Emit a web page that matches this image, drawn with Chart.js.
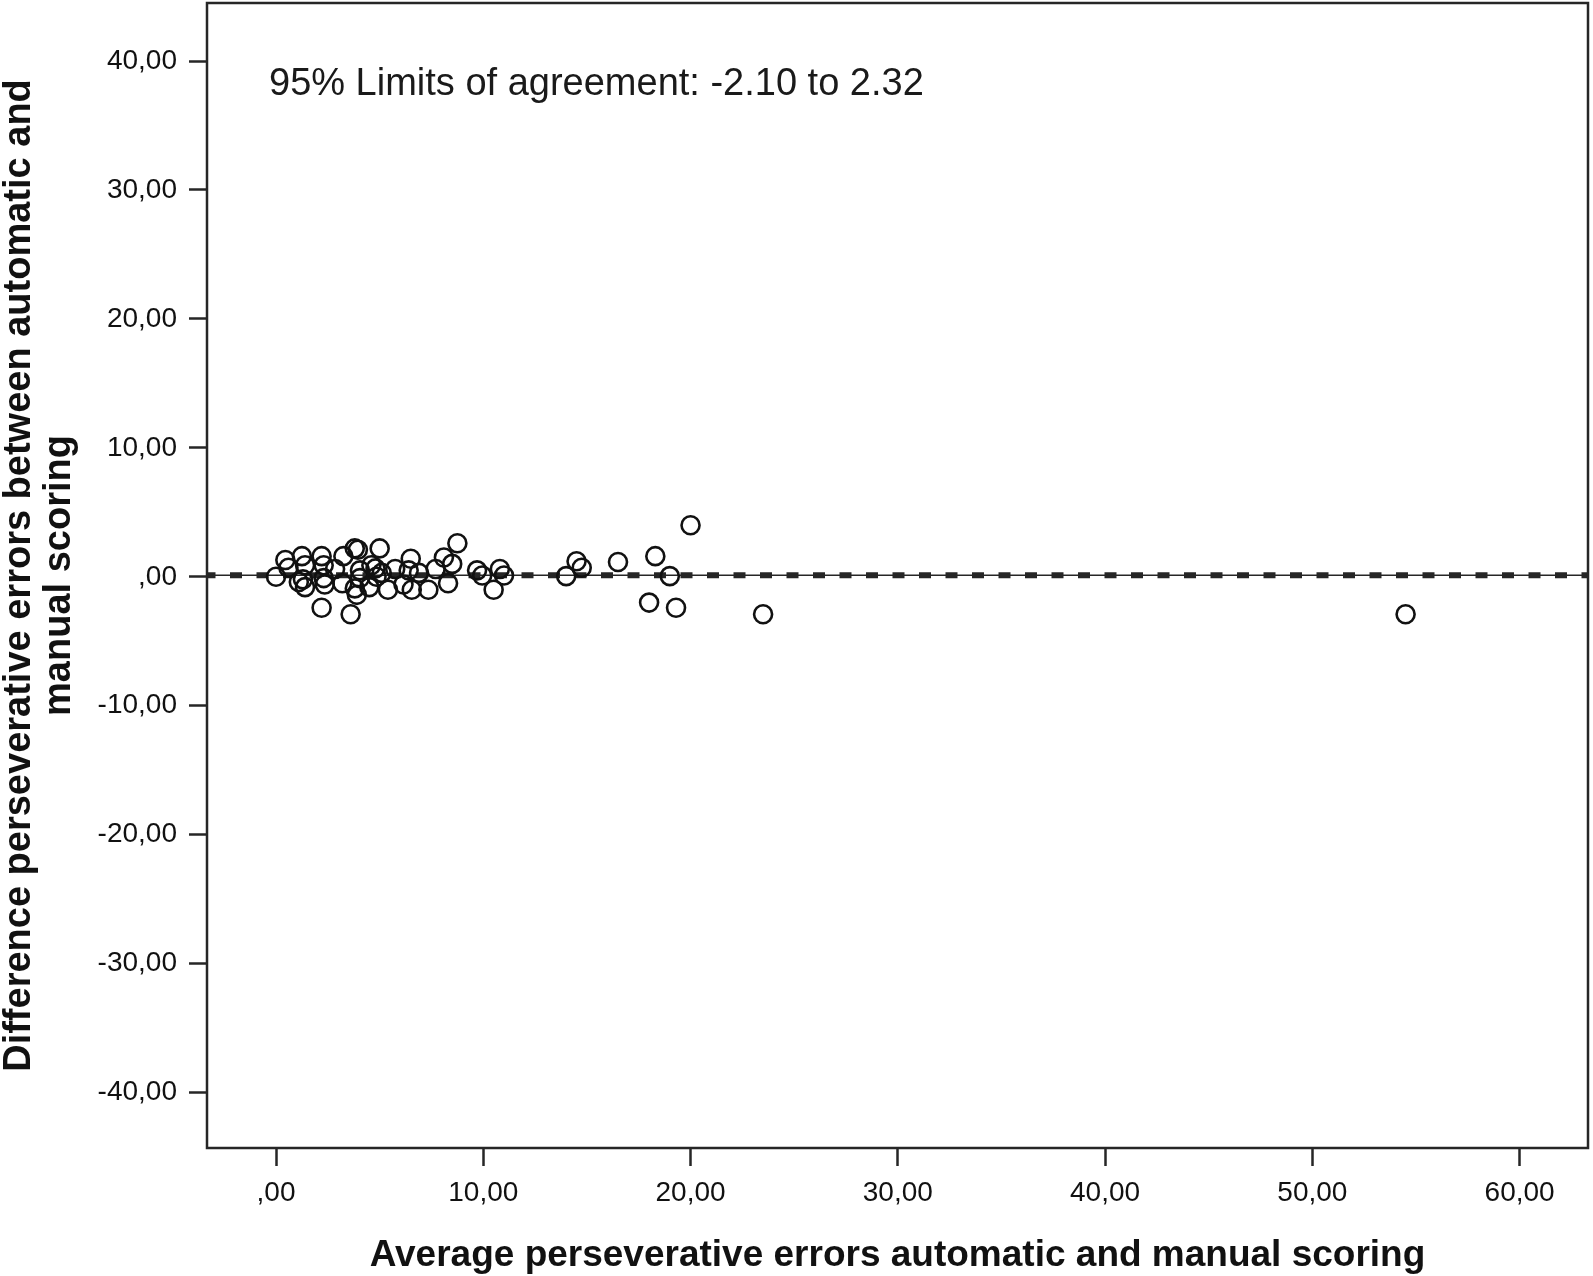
<!DOCTYPE html>
<html>
<head>
<meta charset="utf-8">
<script src="https://cdn.jsdelivr.net/npm/chart.js@4.4.1/dist/chart.umd.min.js"></script>
<style>
  html, body { margin: 0; padding: 0; background: #fff; }
  canvas { display: block; }
</style>
</head>
<body>
<canvas id="bland" width="1593" height="1276"></canvas>
<script>
const averageScores = [
  0, 0.45, 0.6, 1.1, 1.25, 1.4, 1.4, 1.3, 2.2, 2.3, 2.35, 2.3, 2.2, 2.85, 3.2, 3.25, 3.6,
  3.8, 3.95, 3.9, 3.8, 4.05, 4.05, 4.5, 4.6, 4.8, 4.85, 5.0, 5.1, 5.4, 5.75, 6.15, 6.4, 6.5, 6.55, 6.9,
  7.35, 7.7, 8.1, 8.3, 8.5, 8.75, 9.7, 9.95, 10.5, 10.8, 11.0,
  14.0, 14.5, 14.75, 16.5, 18.0, 18.3, 19.0, 19.3, 20.0, 23.5, 54.5
]
const differenceScores = [
  0, 1.3, 0.7, -0.4, 1.6, 0.9, -0.8, -0.2, 1.6, 0.9, -0.6, -0.1, -2.4, 0.6, -0.5, 1.6, -2.9,
  2.2, 2.1, -1.4, -0.9, 0.5, -0.1, -0.8, 0.9, 0.65, 0, 2.2, 0.3, -1.0, 0.6, -0.6, 0.5, 1.4, -1.0, 0.3,
  -1.0, 0.6, 1.5, -0.5, 1.0, 2.6, 0.5, 0.1, -1.0, 0.6, 0.1,
  0.05, 1.2, 0.7, 1.15, -2.0, 1.6, 0.05, -2.4, 4.0, -2.9, -2.9
]
const meanDifference = 0.11
const lowerLimit = -2.10
const upperLimit = 2.32
const agreementText = '95% Limits of agreement: ' + lowerLimit.toFixed(2) + ' to ' + upperLimit.toFixed(2)
const xTitle = 'Average perseverative errors automatic and manual scoring'
const yTitle = ['Difference perseverative errors between automatic and', 'manual scoring']

const fontFamily = "'Liberation Sans', Arial, sans-serif"
const ink = '#262626'

// SPSS style: comma decimals, no leading zero
function spssFormat (v) {
  if (v === 0) return ',00'
  return v.toFixed(2).replace('.', ',')
}

const framePlugin = {
  id: 'framePlugin',
  beforeDatasetsDraw (chart) {
    const { ctx, chartArea: a, scales: { y } } = chart
    const py = y.getPixelForValue(meanDifference)
    ctx.save()
    ctx.beginPath()
    ctx.rect(a.left, a.top, a.right - a.left, a.bottom - a.top)
    ctx.clip()
    ctx.strokeStyle = ink
    ctx.lineWidth = 1.5
    ctx.beginPath()
    ctx.moveTo(a.left, py)
    ctx.lineTo(a.right, py)
    ctx.stroke()
    ctx.lineWidth = 6
    ctx.setLineDash([12, 14.5])
    ctx.lineDashOffset = 3.5
    ctx.beginPath()
    ctx.moveTo(a.left, py)
    ctx.lineTo(a.right, py)
    ctx.stroke()
    ctx.restore()
  },
  afterDraw (chart) {
    const { ctx, chartArea: a } = chart
    ctx.save()
    ctx.strokeStyle = ink
    ctx.lineWidth = 2.5
    ctx.strokeRect(a.left, a.top, a.right - a.left, a.bottom - a.top)
    ctx.fillStyle = '#1a1a1a'
    ctx.font = '38px ' + fontFamily
    ctx.textAlign = 'left'
    ctx.textBaseline = 'alphabetic'
    ctx.fillText(agreementText, a.left + 62, a.top + 92)
    ctx.restore()
  }
}

new Chart(document.getElementById('bland'), {
  type: 'scatter',
  data: {
    datasets: [{
      data: averageScores.map((x, i) => ({ x, y: differenceScores[i] })),
      pointStyle: 'circle',
      pointRadius: 9,
      pointHoverRadius: 9,
      borderWidth: 2.6,
      borderColor: '#111',
      backgroundColor: 'rgba(0,0,0,0)'
    }]
  },
  options: {
    responsive: false,
    animation: false,
    events: [],
    layout: { autoPadding: false, padding: { top: 3, right: 5, left: 0, bottom: 0 } },
    plugins: {
      legend: { display: false },
      tooltip: { enabled: false }
    },
    scales: {
      x: {
        type: 'linear',
        min: -3.33,
        max: 63.3,
        afterFit (scale) {
          scale.height = 128
          scale.paddingLeft = 0
          scale.paddingRight = 0
        },
        border: { display: false },
        grid: {
          display: true,
          drawOnChartArea: false,
          drawTicks: true,
          tickLength: 18,
          tickWidth: 2.5,
          tickColor: ink
        },
        ticks: {
          stepSize: 10,
          includeBounds: false,
          padding: 10,
          maxRotation: 0,
          color: '#111',
          font: { family: fontFamily, size: 28 },
          callback: spssFormat
        },
        title: {
          display: true,
          text: xTitle,
          color: '#111',
          padding: 0,
          font: { family: fontFamily, size: 37, weight: 'bold', lineHeight: 1.08 }
        }
      },
      y: {
        type: 'linear',
        min: -44.3,
        max: 44.5,
        afterFit (scale) {
          scale.width = 207
          scale.paddingTop = 0
          scale.paddingBottom = 0
        },
        border: { display: false },
        grid: {
          display: true,
          drawOnChartArea: false,
          drawTicks: true,
          tickLength: 18,
          tickWidth: 2.5,
          tickColor: ink
        },
        ticks: {
          stepSize: 10,
          includeBounds: false,
          padding: 12,
          color: '#111',
          font: { family: fontFamily, size: 28 },
          callback: spssFormat
        },
        title: {
          display: true,
          text: yTitle,
          color: '#111',
          padding: 0,
          font: { family: fontFamily, size: 38, weight: 'bold', lineHeight: 1.05 }
        }
      }
    }
  },
  plugins: [framePlugin]
})
</script>
</body>
</html>
